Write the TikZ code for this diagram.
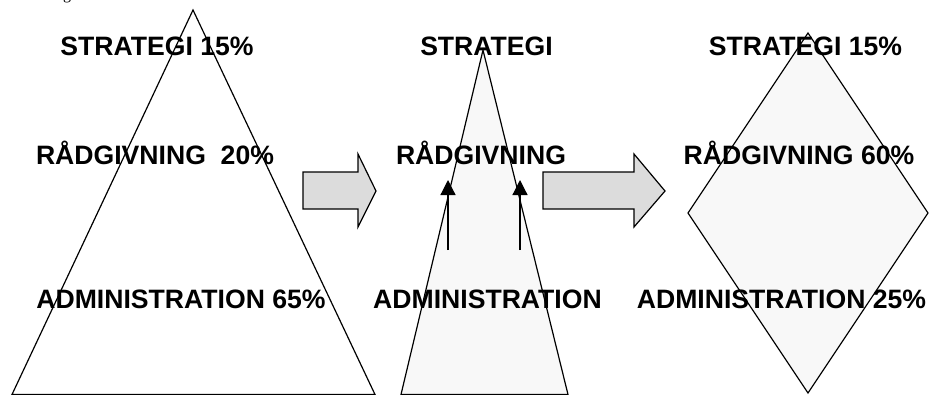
\documentclass[tikz,border=0pt]{standalone}
\usepackage{fontspec}
\setmainfont{Liberation Sans}
\newfontfamily\capfont{Liberation Serif}
\usetikzlibrary{arrows.meta}
\tikzset{
  lbl/.style={font=\fontsize{26.6}{30}\selectfont\bfseries, inner sep=0pt, anchor=base},
  shapeline/.style={draw=black, line width=1.2pt, line join=miter},
  blockarrow/.style={draw=black, line width=1.2pt, fill=arrowgray},
  uparrow/.style={draw=black, line width=1.2pt, -{Triangle[width=15pt,length=15pt]}},
}
\definecolor{arrowgray}{HTML}{DCDCDC}
\definecolor{lightfill}{HTML}{F8F8F8}
\begin{document}
\begin{tikzpicture}[x=1pt,y=-1pt]
\useasboundingbox (0,0) rectangle (930,394);
% caption fragment
\node[font=\capfont\fontsize{16}{16}\selectfont, inner sep=0pt, anchor=base] (cap) at (67,-1) {g};
% triangle 1
\draw[shapeline] (193,10) -- (375,394.5) -- (12,394.5) -- cycle;
% block arrow 1
\draw[blockarrow] (303,172) -- (358,172) -- (358,154) -- (376,191) -- (358,227) -- (358,209) -- (303,209) -- cycle;
% triangle 2
\draw[shapeline, fill=lightfill] (483,50) -- (568,394.5) -- (401,394.5) -- cycle;
% block arrow 2
\draw[blockarrow] (543,172) -- (634,172) -- (634,154) -- (665,191) -- (634,227) -- (634,209) -- (543,209) -- cycle;
% diamond
\draw[shapeline, fill=lightfill] (808,33) -- (928,213) -- (808,393) -- (688,213) -- cycle;
% up arrows
\coordinate (ua1s) at (448,250);
\coordinate (ua1e) at (448,180);
\coordinate (ua2s) at (520,250);
\coordinate (ua2e) at (520,180);
\draw[uparrow] (ua1s) -- (ua1e);
\draw[uparrow] (ua2s) -- (ua2e);
% labels
\node[lbl] (s1) at (157,55) {STRATEGI 15\%};
\node[lbl] (r1) at (155,164) {RÅDGIVNING\ \ 20\%};
\node[lbl] (a1) at (181,308) {ADMINISTRATION 65\%};
\node[lbl] (s2) at (486.5,55) {STRATEGI};
\node[lbl] (r2) at (481,164) {RÅDGIVNING};
\node[lbl] (a2) at (487.5,308) {ADMINISTRATION};
\node[lbl] (s3) at (805.5,55) {STRATEGI 15\%};
\node[lbl] (r3) at (799,164) {RÅDGIVNING 60\%};
\node[lbl] (a3) at (781.5,308) {ADMINISTRATION 25\%};
\end{tikzpicture}
\end{document}
